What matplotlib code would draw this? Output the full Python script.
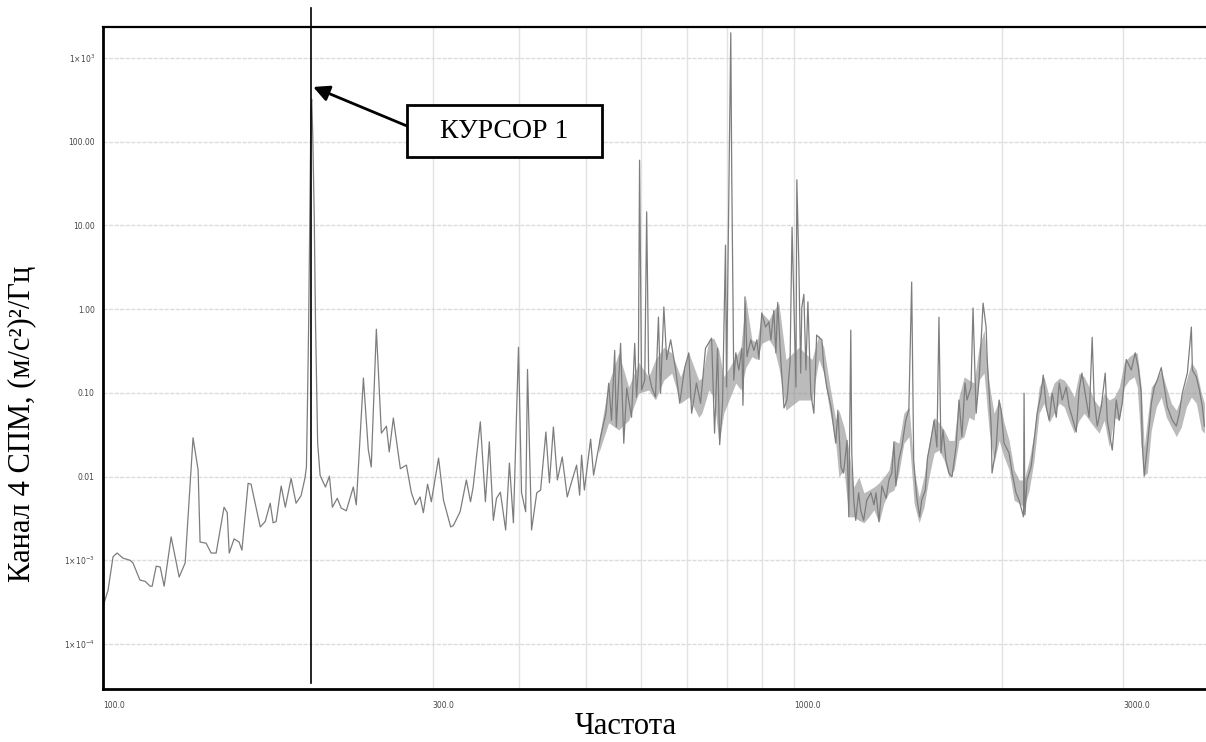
import matplotlib
matplotlib.use("Agg")
import matplotlib.pyplot as plt
import numpy as np
from matplotlib.patches import Rectangle

# spectrum, split into three bands
freq_low = [100, 101.7, 103.4, 104.8, 106.9, 109.4, 110.5, 113.1, 115.1, 117.0, 117.8,
            119.4, 121.0, 122.6, 125.5, 128.9, 131.5, 135.0, 137.3, 138.2, 141.0, 143.4,
            145.8, 149.7, 151.3, 152.3, 154.8, 157.4, 158.9, 162.2, 163.8, 168.9, 171.7,
            174.6, 176.3, 178.1, 181.1, 183.6, 187.2, 190.3, 193.5, 196.0, 197.0, 197.8,
            198.5, 199.2, 200.0, 200.5, 201.2, 202.2, 203.0, 203.6, 204.5, 206.2, 209.9,
            212.7, 214.8, 218.3, 221.2, 225.0, 230.3, 232.6, 238.2, 242.1, 244.5, 248.7,
            252.9, 257.2, 259.6, 263.2, 269.4, 274.9, 279.4, 283.3, 287.7, 290.9, 295.0,
            298.7]
psd_low = [2.8e-4, 4.4e-4, 1.1e-3, 1.22e-3, 1.06e-3, 1.0e-3, 9.3e-4, 5.8e-4, 5.6e-4, 4.9e-4,
           4.9e-4, 8.5e-4, 8.3e-4, 4.9e-4, 1.9e-3, 6.3e-4, 9.3e-4, 0.029, 0.012, 1.65e-3,
           1.6e-3, 1.22e-3, 1.22e-3, 4.3e-3, 3.7e-3, 1.22e-3, 1.8e-3, 1.65e-3, 1.32e-3,
           8.3e-3, 8.1e-3, 2.5e-3, 2.9e-3, 4.8e-3, 2.8e-3, 2.9e-3, 7.7e-3, 4.3e-3, 9.5e-3,
           4.8e-3, 5.9e-3, 9.5e-3, 0.013, 0.1, 0.75, 12.6, 250, 320, 120, 12.6, 0.8, 0.19,
           0.025, 0.0103, 0.0075, 0.0101, 0.0043, 0.0055, 0.0042, 0.0039, 0.0075, 0.0046,
           0.15, 0.021, 0.013, 0.575, 0.033, 0.040, 0.0197, 0.05, 0.0124, 0.0137, 0.0065,
           0.0046, 0.0057, 0.0037, 0.0081, 0.005]

freq_mid = [306.0, 311.1, 318.6, 321.5, 328.8, 335.7, 340.4, 343.4, 351.7, 357.7, 362.4,
            367.3, 371.2, 376.0, 382.7, 387.5, 392.7, 399.4, 403.5, 409.1, 411.6, 417.2,
            424.5, 430.0, 437.6, 442.8, 448.7, 454.7, 462.1, 469.9, 476.3, 484.8, 489.7,
            492.9, 497.5, 508.0, 513.0, 525.2, 534.5, 539.5, 544.6, 550.4, 553.4, 561.3,
            567.3, 572.9, 582.2, 588.4, 591.9, 595.6, 598.0, 602.0, 608.4, 612.3, 616.3,
            622.6, 630.5, 636.8, 641.3, 648.4, 654.5, 663.3, 674.5, 683.7, 695.1, 704.5,
            711.3, 722.8, 732.8, 744.9, 760.3, 767.8, 775.6, 781.0, 788.4, 796.3, 799.0,
            810.4, 813.1, 818.6, 824.1, 832.5, 841.1, 844.0, 849.7, 855.4, 866.4, 875.3,
            884.1, 890.2, 898.6, 910.0, 920.2, 926.3, 935.3, 941.9, 947.6, 957.9, 967.8,
            977.3, 987.4, 994.1, 1007, 1010, 1017, 1023, 1027, 1034, 1041, 1048, 1058,
            1069, 1079, 1087, 1098]
psd_mid = [0.0166, 0.0052, 0.0025, 0.0026, 0.0038, 0.0091, 0.005, 0.0075, 0.045, 0.005,
           0.026, 0.003, 0.0055, 0.0065, 0.0023, 0.0145, 0.0028, 0.35, 0.0064, 0.0038, 0.19,
           0.0023, 0.0064, 0.0069, 0.034, 0.0084, 0.039, 0.0091, 0.0171, 0.0057, 0.0084,
           0.0137, 0.006, 0.018, 0.0069, 0.028, 0.0104, 0.030, 0.057, 0.13, 0.047, 0.32,
           0.039, 0.39, 0.025, 0.114, 0.051, 0.39, 0.089, 0.187, 60, 0.108, 0.142, 14.5,
           0.172, 0.117, 0.089, 0.80, 0.099, 1.06, 0.25, 0.43, 0.187, 0.075, 0.20, 0.30,
           0.057, 0.131, 0.075, 0.34, 0.45, 0.033, 0.34, 0.024, 0.075, 5.8, 0.117, 1990, 37,
           0.142, 0.30, 0.187, 0.34, 0.071, 1.40, 0.27, 0.43, 0.32, 0.43, 0.25, 0.90, 0.61,
           0.70, 0.43, 0.96, 0.30, 1.2, 0.23, 0.066, 0.082, 0.23, 9.5, 0.117, 35, 3.2, 0.172,
           1.06, 1.5, 0.187, 1.22, 0.099, 0.057, 0.49, 0.46, 0.43]

freq_high = [1105, 1116, 1132, 1143, 1150, 1158, 1170, 1180, 1194, 1201, 1209, 1213, 1221,
             1229, 1241, 1250, 1262, 1275, 1293, 1306, 1315, 1328, 1341, 1360, 1373, 1386,
             1396, 1405, 1419, 1433, 1452, 1467, 1481, 1491, 1506, 1521, 1531, 1550, 1561,
             1576, 1596, 1611, 1622, 1633, 1644, 1660, 1677, 1694, 1717, 1734, 1751, 1769,
             1781, 1805, 1817, 1836, 1854, 1867, 1879, 1898, 1905, 1930, 1936, 1963, 1982,
             1995, 2015, 2049, 2070, 2097, 2119, 2150, 2154, 2160, 2176, 2205, 2227, 2250,
             2280, 2296, 2319, 2342, 2366, 2398, 2422, 2446, 2479, 2503, 2529, 2563, 2588,
             2612, 2650, 2676, 2703, 2721, 2749, 2786, 2823, 2842, 2890, 2929, 2958, 2988,
             3028, 3079, 3120, 3152, 3183, 3194, 3215, 3248, 3292, 3325, 3358, 3403, 3438,
             3472, 3531, 3578, 3614, 3650, 3712, 3762, 3775, 3825, 3864, 3903, 3929]
psd_high = [0.20, 0.117, 0.068, 0.036, 0.025, 0.062, 0.013, 0.011, 0.027, 0.0033, 0.56,
            0.019, 0.0052, 0.003, 0.0064, 0.0039, 0.003, 0.0052, 0.0064, 0.0046, 0.0064,
            0.0029, 0.0077, 0.0055, 0.0091, 0.011, 0.026, 0.0077, 0.0157, 0.0225, 0.047,
            0.062, 2.1, 0.0157, 0.0057, 0.0033, 0.0052, 0.0069, 0.0166, 0.025, 0.047, 0.0225,
            0.80, 0.0191, 0.036, 0.0157, 0.011, 0.0099, 0.0225, 0.082, 0.030, 0.131, 0.082,
            0.117, 1.03, 0.057, 0.142, 0.43, 1.18, 0.61, 0.25, 0.04, 0.011, 0.0225, 0.082,
            0.062, 0.025, 0.0191, 0.011, 0.0064, 0.0052, 0.0033, 0.099, 0.0035, 0.0091,
            0.013, 0.027, 0.057, 0.099, 0.163, 0.068, 0.047, 0.099, 0.051, 0.131, 0.082,
            0.117, 0.068, 0.051, 0.034, 0.108, 0.172, 0.082, 0.051, 0.46, 0.082, 0.040,
            0.068, 0.172, 0.047, 0.0207, 0.082, 0.047, 0.075, 0.25, 0.187, 0.30, 0.20, 0.099,
            0.025, 0.0101, 0.0225, 0.075, 0.117, 0.142, 0.20, 0.117, 0.068, 0.047, 0.040,
            0.057, 0.099, 0.172, 0.61, 0.187, 0.155, 0.108, 0.068, 0.040]

# upper / lower edge of the dense noise band above ~520 Hz
band_freq = [521.9, 539.5, 557.8, 576.7, 596.2, 616.3, 630.5, 648.4, 665.6, 685.5, 704.5,
             728.4, 736, 753.3, 766, 778.9, 791.7, 824.1, 838, 852, 869.5, 884.1, 898.6,
             920.2, 935.5, 951.2, 974.0, 1017, 1062, 1087, 1105, 1124, 1150, 1162, 1182,
             1201, 1221, 1242, 1263, 1284, 1306, 1328, 1350, 1373, 1396, 1419, 1443, 1468,
             1493, 1518, 1543, 1569, 1596, 1622, 1650, 1677, 1706, 1734, 1764, 1793, 1823,
             1854, 1885, 1917, 1949, 1982, 2015, 2049, 2084, 2119, 2154, 2191, 2227, 2265,
             2303, 2342, 2381, 2422, 2462, 2503, 2546, 2588, 2632, 2676, 2721, 2767, 2813,
             2861, 2909, 2958, 3008, 3058, 3110, 3141, 3183, 3215, 3248, 3292, 3347, 3403,
             3461, 3519, 3578, 3638, 3700, 3762, 3825, 3890, 3929]
band_top = [0.027, 0.131, 0.30, 0.117, 0.23, 0.155, 0.25, 0.35, 0.30, 0.155, 0.30, 0.142,
            0.150, 0.43, 0.45, 0.32, 0.155, 0.27, 0.35, 1.36, 0.43, 0.40, 0.90, 0.74, 0.975,
            1.18, 0.25, 0.35, 0.25, 0.49, 0.35, 0.142, 0.047, 0.062, 0.039, 0.0207, 0.0075,
            0.0099, 0.0064, 0.0069, 0.0075, 0.0084, 0.0099, 0.012, 0.027, 0.025, 0.057,
            0.068, 0.012, 0.0057, 0.0099, 0.025, 0.051, 0.044, 0.036, 0.027, 0.027, 0.089,
            0.155, 0.142, 0.131, 0.35, 0.56, 0.131, 0.057, 0.082, 0.044, 0.027, 0.012,
            0.0091, 0.0091, 0.0157, 0.033, 0.117, 0.155, 0.089, 0.131, 0.150, 0.142, 0.117,
            0.089, 0.172, 0.155, 0.117, 0.082, 0.068, 0.099, 0.082, 0.089, 0.117, 0.23, 0.27,
            0.30, 0.30, 0.117, 0.0225, 0.047, 0.117, 0.142, 0.187, 0.117, 0.075, 0.062,
            0.089, 0.142, 0.23, 0.187, 0.099, 0.075]
band_bot = [0.0191, 0.044, 0.036, 0.047, 0.099, 0.108, 0.082, 0.142, 0.172, 0.075, 0.089,
            0.051, 0.057, 0.108, 0.089, 0.025, 0.057, 0.131, 0.108, 0.20, 0.27, 0.25, 0.39,
            0.43, 0.35, 0.20, 0.062, 0.082, 0.082, 0.25, 0.172, 0.068, 0.025, 0.0099, 0.012,
            0.0033, 0.0033, 0.003, 0.0028, 0.0033, 0.004, 0.0028, 0.0048, 0.0064, 0.0069,
            0.011, 0.025, 0.030, 0.0048, 0.0028, 0.0043, 0.0099, 0.0191, 0.0207, 0.0157,
            0.0099, 0.012, 0.027, 0.030, 0.051, 0.047, 0.142, 0.172, 0.036, 0.0145, 0.027,
            0.0171, 0.012, 0.0052, 0.0048, 0.0043, 0.0069, 0.0157, 0.057, 0.075, 0.044,
            0.057, 0.075, 0.068, 0.047, 0.033, 0.047, 0.057, 0.047, 0.039, 0.033, 0.047,
            0.0225, 0.051, 0.047, 0.117, 0.142, 0.155, 0.117, 0.0225, 0.0104, 0.011, 0.036,
            0.068, 0.089, 0.051, 0.039, 0.030, 0.039, 0.068, 0.089, 0.075, 0.036, 0.033]

y_ticks = [1e-4, 1e-3, 1e-2, 1e-1, 1, 10, 100, 1000]
y_tick_labels = [r"$1{\times}10^{-4}$", r"$1{\times}10^{-3}$", "0.01", "0.10", "1.00",
                 "10.00", "100.00", r"$1{\times}10^{3}$"]
x_ticks = [100, 300, 1000, 3000]
x_tick_labels = ["100.0", "300.0", "1000.0", "3000.0"]
x_grid = [300, 400, 500, 600, 700, 800, 900, 1000, 2000, 3000]

CURSOR_FREQ = 200.0
CURSOR_TIP = (201.5, 450.0)
CURSOR_TEXT = "КУРСОР 1"

W, H = 1206, 742

freq = np.array(freq_low + freq_mid + freq_high)
psd = np.array(psd_low + psd_mid + psd_high)

fig = plt.figure(figsize=(W / 100, H / 100), dpi=100)
ax = fig.add_axes([103 / W, 1 - 689 / H, 1 - 103 / W, (689 - 27) / H])

ax.set_xscale("log")
ax.set_yscale("log")
ax.set_xlim(100, 3950)
ax.set_ylim(2.9e-5, 2340)

for g in x_grid:
    ax.axvline(g, color="#e2e2e2", lw=1.0, zorder=0)
for g in y_ticks:
    ax.axhline(g, color="#dcdcdc", lw=1.0, ls=(0, (3, 1)), zorder=0)

# dense trace drawn as a band, the single line on top keeps the spikes
ax.fill_between(band_freq, band_bot, band_top, color="#8e8e8e", alpha=0.6, lw=0,
                zorder=1)
ax.plot(freq, psd, color="#7d7d7d", lw=0.9, zorder=2)

ax.set_xticks(x_ticks)
ax.set_xticklabels(x_tick_labels, fontsize=5.5, color="#444444", ha="left")
ax.set_xticks([], minor=True)
ax.set_yticks(y_ticks)
ax.set_yticklabels(y_tick_labels, fontsize=5.5, color="#444444")
ax.set_yticks([], minor=True)
ax.tick_params(axis="both", length=0)
ax.tick_params(axis="x", pad=9)
ax.tick_params(axis="y", pad=6)

for side in ("left", "bottom"):
    ax.spines[side].set_linewidth(2.0)
ax.spines["top"].set_linewidth(1.6)
ax.spines["right"].set_visible(False)

# cursor line, runs a little above the frame
ax.axvline(CURSOR_FREQ, ymin=6 / 662, ymax=(689 - 8) / 662, color="black", lw=1.2,
           clip_on=False, zorder=3)

serif = ["Liberation Serif", "DejaVu Serif"]
box_l, box_t, box_w, box_h = 407, 105, 195, 52
fig.add_artist(Rectangle((box_l / W, 1 - (box_t + box_h) / H), box_w / W, box_h / H,
                         transform=fig.transFigure, facecolor="white", edgecolor="black",
                         lw=2.0, zorder=5))
fig.text((box_l + box_w / 2) / W, 1 - (box_t + box_h / 2) / H, CURSOR_TEXT,
         ha="center", va="center", fontsize=20, family=serif, zorder=6)
ax.annotate("", xy=CURSOR_TIP, xycoords="data",
            xytext=(box_l / W, 1 - 126 / H), textcoords="figure fraction",
            arrowprops=dict(arrowstyle="-|>", color="black", lw=2.0, mutation_scale=24,
                            shrinkA=0, shrinkB=0), annotation_clip=False)

fig.text(22 / W, 1 - 424 / H, "Канал 4 СПМ, (м/с²)²/Гц", rotation=90, ha="center",
         va="center", fontsize=22, family=serif)
fig.text(626 / W, 1 - 727 / H, "Частота", ha="center", va="center", fontsize=22,
         family=serif)

fig.savefig("out.png", dpi=100)
